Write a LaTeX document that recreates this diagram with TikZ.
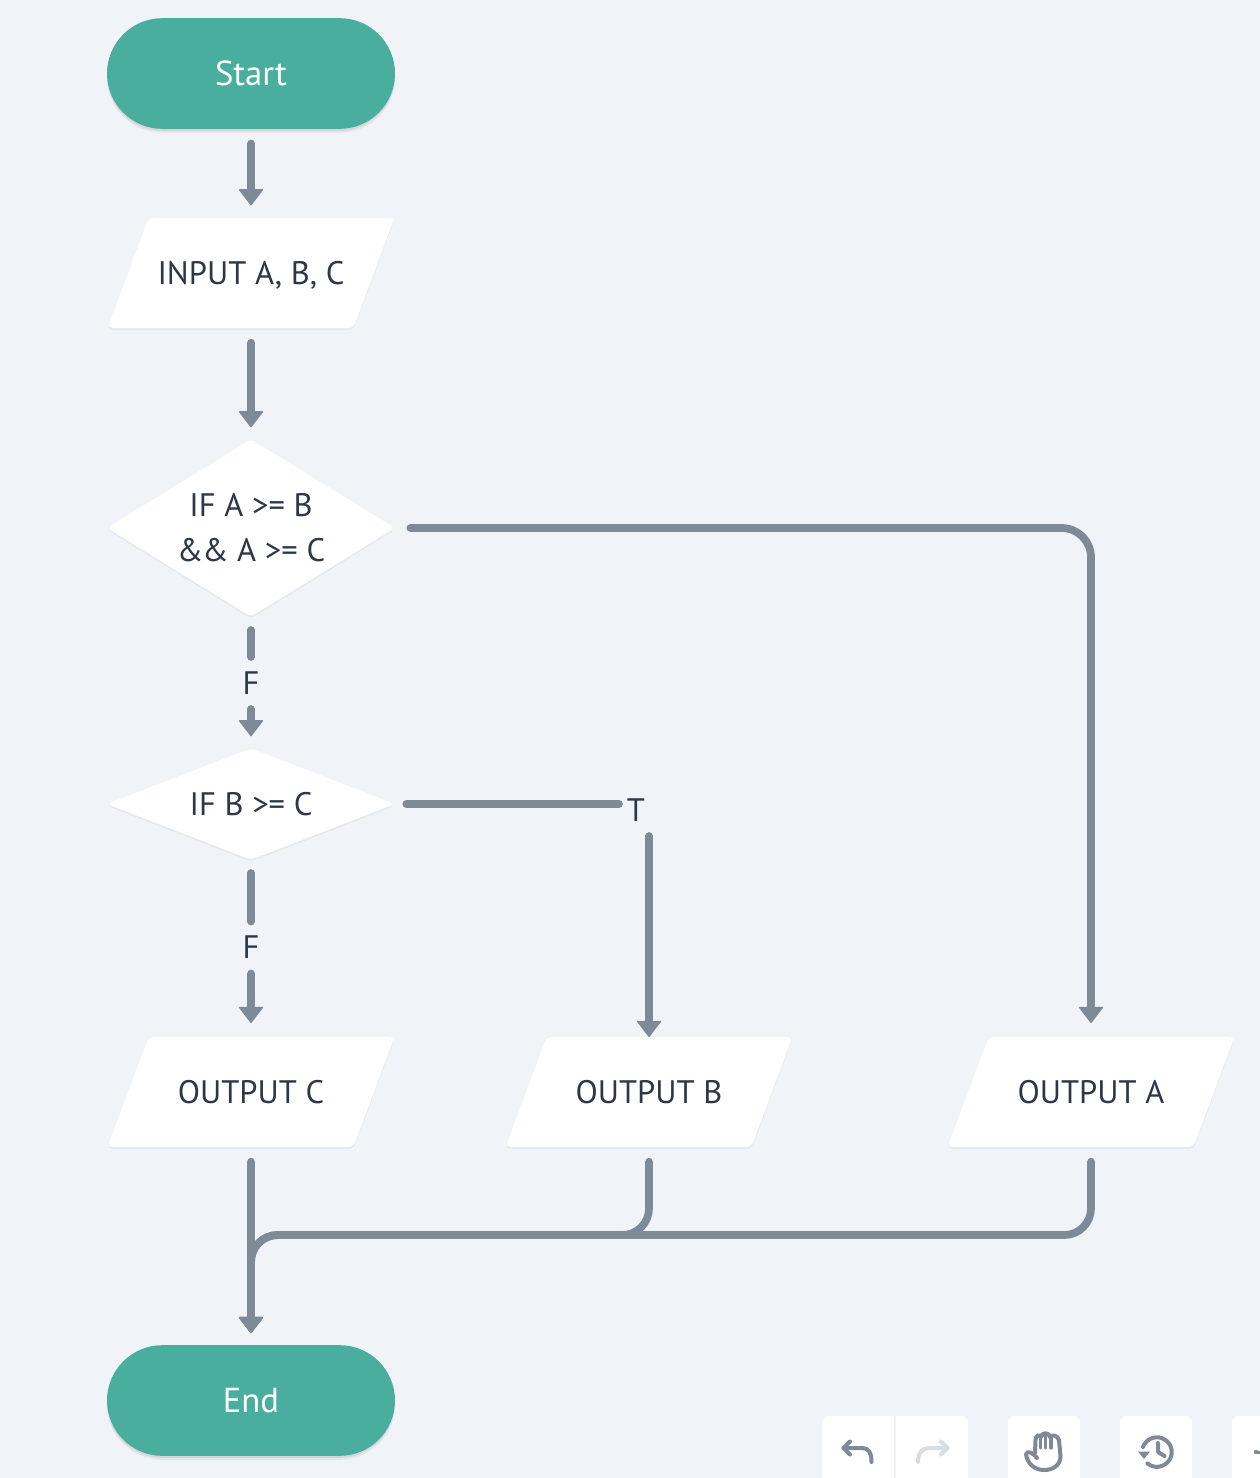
\documentclass[tikz,border=0pt]{standalone}
\usepackage{fontspec}
\setmainfont{PT Sans}
\usetikzlibrary{arrows.meta,shapes.geometric,shadows,calc}
\definecolor{bgc}{HTML}{F0F4F8}
\definecolor{teal1}{HTML}{4AAE9F}
\definecolor{linec}{HTML}{7E8A97}
\definecolor{textc}{HTML}{2D3748}
\definecolor{lightc}{HTML}{D9DDE1}
\tikzset{
  x=0.75pt,y=-0.75pt,
  softshadow/.style={drop shadow={shadow xshift=0pt,shadow yshift=-1.5pt,opacity=.04,fill=black}},
  termshadow/.style={drop shadow={shadow xshift=0pt,shadow yshift=-1.5pt,opacity=.07,fill=black},drop shadow={shadow xshift=0pt,shadow yshift=-3pt,opacity=.05,fill=black}},
  base/.style={inner sep=0pt,outer sep=0pt,text=textc,font=\fontsize{24.4}{33.75}\selectfont,align=center},
  terminal/.style={base,termshadow,fill=teal1,rounded corners=41.5pt,minimum width=216pt,minimum height=83pt,text=white,font=\fontsize{26}{33}\selectfont},
  iobox/.style={base,softshadow,trapezium,fill=white,rounded corners=3.5pt,trapezium left angle=69.6,trapezium right angle=110.4,trapezium stretches body=true,text height=20pt,text depth=3pt,inner ysep=29.75pt,minimum width=215pt},
  decision/.style={base,softshadow,diamond,fill=white,rounded corners=3.5pt,minimum width=216pt},
  lab/.style={base,minimum width=25.5pt,minimum height=39pt},
  link/.style={draw=linec,line width=5.8pt,line cap=round},
  flow/.style={link,-{Triangle[width=19pt,length=12.5pt,round,line width=1pt]}},
  btn/.style={fill=white,rounded corners=5pt,drop shadow={shadow xshift=0pt,shadow yshift=-1pt,opacity=.06,fill=black}},
  icon/.style={draw=linec,line width=3pt,line cap=round,line join=round},
}
\begin{document}
\begin{tikzpicture}
\fill[bgc] (0,0) rectangle (1260,1478);
\useasboundingbox (0,0) rectangle (1260,1478);
\clip (0,0) rectangle (1260,1478);

% nodes
\node[terminal] (start) at (251,73.5) {Start};
\node[iobox] (input) at (251,273) {INPUT A, B, C};
\node[decision,minimum height=133pt,shape aspect=1.62] (d1) at (251,528) {\raisebox{-0.7pt}{IF A >= B}\\[0pt]\raisebox{-0.7pt}{\&\hspace{-1pt}\& A >= C}};
\node[decision,minimum height=83.5pt,shape aspect=2.58] (d2) at (251,804) {IF B >= C};
\node[iobox] (outC) at (251,1092) {OUTPUT C};
\node[iobox] (outB) at (649,1092) {OUTPUT B};
\node[iobox] (outA) at (1091,1092) {OUTPUT A};
\node[terminal] (endn) at (251,1400.5) {End};
\node[lab] (f1) at (251,683) {F};
\node[lab] (f2) at (251,947.5) {F};
\node[lab] (t1) at (636,810) {T};
\coordinate (merge) at (251,1235);

% connectors
\draw[flow,shorten <=11pt,shorten >=9.5pt] (start.south) -- (input.north);
\draw[flow,shorten <=11pt,shorten >=9pt] (input.south) -- (d1.north);
\draw[link,shorten <=10pt] (d1.south) -- (f1.north);
\draw[flow,shorten >=9pt] (f1.south) -- (d2.north);
\draw[link,shorten <=10pt] (d2.south) -- (f2.north);
\draw[flow,shorten >=10.5pt] (f2.south) -- (outC.north);
\draw[link,shorten <=8.5pt] (d2.east) -- (d2.east -| t1.west);
\draw[flow] (outB.north |- t1.south) -- (outB.north);
\draw[flow,rounded corners=22pt,shorten <=11.5pt,shorten >=10.5pt] (d1.east) -| (outA.north);
\draw[flow,shorten <=11pt,shorten >=9pt] (outC.south) -- (endn.north);
\draw[flow,rounded corners=20pt,shorten <=11pt,shorten >=9pt] (outB.south) -- (outB.south |- merge) -- (merge) -- (endn.north);
\draw[flow,rounded corners=20pt,shorten <=11pt,shorten >=9pt] (outA.south) -- (outA.south |- merge) -- (merge) -- (endn.north);

% toolbar
\path[btn] (822,1416) rectangle (968,1500);
\draw[bgc,line width=1.2pt] (895,1416) -- (895,1478);
\path[btn] (1008,1416) rectangle (1080,1500);
\path[btn] (1120,1416) rectangle (1192,1500);
\path[btn] (1232,1416) rectangle (1300,1500);
% undo
\draw[icon] (850,1441.5) -- (843.5,1448) -- (850,1454.5);
\draw[icon] (843.5,1448) -- (862,1448) .. controls (868,1448) and (871.5,1452) .. (871.5,1462);
% redo
\draw[icon,draw=lightc] (941,1441.5) -- (947.5,1448) -- (941,1454.5);
\draw[icon,draw=lightc] (947.5,1448) -- (929,1448) .. controls (923,1448) and (918,1452) .. (918,1462);
% hand
\draw[icon] (1035,1453) -- (1035.5,1440) .. controls (1035.5,1435) and (1040,1434) .. (1041,1437)
  .. controls (1042,1432) and (1049,1432) .. (1050,1437)
  .. controls (1052,1434) and (1057,1435) .. (1059,1440)
  -- (1060.5,1456) .. controls (1060.5,1466) and (1052,1470) .. (1044,1470)
  .. controls (1034,1470) and (1027,1463) .. (1026,1454)
  .. controls (1028,1450) and (1033,1453) .. (1037,1458);
\draw[icon,line width=2.5pt] (1040.5,1437) -- (1040.5,1448) (1045.5,1435) -- (1045.5,1448) (1051,1436) -- (1051,1448);
% history
\draw[icon] (1143,1447) arc[start angle=-160,end angle=130,radius=14.8,y radius=14.8];
\fill[linec] (1138,1451.5) -- (1150,1451.5) -- (1144,1459) -- cycle;
\draw[icon] (1158,1443) -- (1158,1452) -- (1164.5,1456);
% cut-off icon at the edge
\fill[linec] (1256,1452) circle[radius=2.2];
\fill[linec] (1256,1450.5) rectangle (1260,1453.5);
\end{tikzpicture}
\end{document}
